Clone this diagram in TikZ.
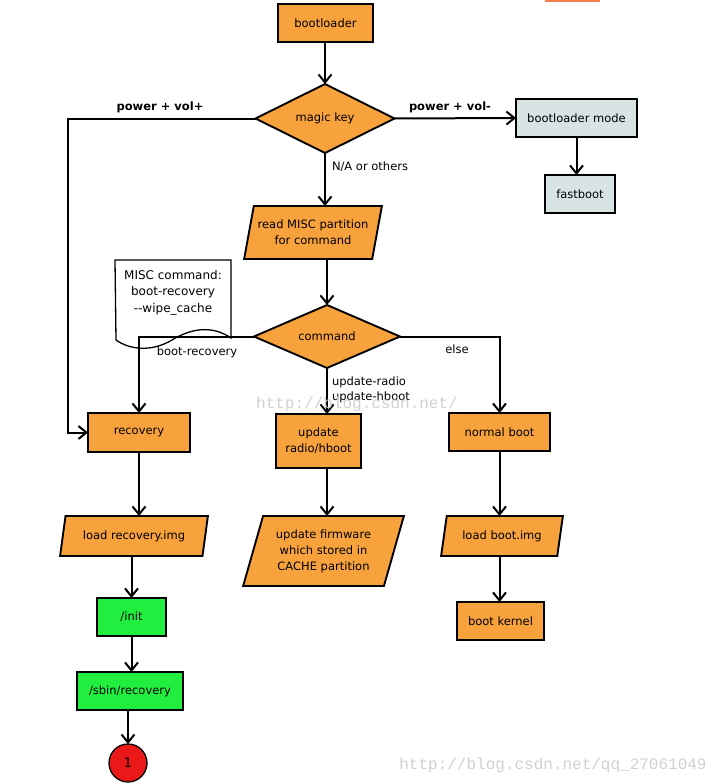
\documentclass[tikz,border=0pt]{standalone}
\usepackage{fontspec}
\setmainfont{DejaVu Sans}
\newfontfamily\wmfont{Liberation Mono}
\usetikzlibrary{shapes.geometric,arrows.meta}
\definecolor{boxorange}{RGB}{247,162,60}
\definecolor{boxgray}{RGB}{216,228,228}
\definecolor{boxgreen}{RGB}{34,238,64}
\definecolor{boxred}{RGB}{234,24,24}
\definecolor{wmgray}{RGB}{208,208,208}
\definecolor{topbar}{RGB}{240,125,75}
\begin{document}
\begin{tikzpicture}[x=1pt,y=-1pt,
  every node/.style={font=\fontsize{11.5}{16}\selectfont, inner sep=0pt, outer sep=0pt},
  proc/.style={draw, line width=1.9pt, fill=boxorange, rectangle, align=center},
  procgray/.style={proc, fill=boxgray},
  procgreen/.style={proc, fill=boxgreen},
  decision/.style={draw, line width=1.9pt, fill=boxorange, diamond, aspect=2, align=center},
  iobox/.style={draw, line width=1.9pt, fill=boxorange, trapezium, trapezium left angle=70,
     trapezium right angle=110, trapezium stretches=true, align=center},
  notebox/.style={draw, line width=1.3pt, fill=white},
  arr/.style={line width=2pt, -{Straight Barb[length=8pt,width=13pt,line width=2pt]}},
  lbl/.style={font=\fontsize{11.5}{15}\selectfont},
  blbl/.style={font=\fontsize{11.5}{15}\selectfont\bfseries},
  wm/.style={font=\fontsize{16}{18}\wmfont, text=wmgray}
]
\useasboundingbox (0,0) rectangle (724,784);
\fill[topbar] (545,0) rectangle (600,2);

% nodes
\node[proc, minimum width=95pt, minimum height=38pt] (boot) at (325.5,23) {bootloader};
\node[decision, minimum width=139pt, minimum height=69pt] (magic) at (325,118.5) {magic key};
\node[procgray, minimum width=121pt, minimum height=38pt] (blmode) at (576.5,118) {bootloader mode};
\node[procgray, minimum width=70pt, minimum height=38pt] (fastboot) at (580,194) {fastboot};
\node[iobox, minimum width=138pt, minimum height=53pt] (misc) at (313,232.5) {read MISC partition\\for command};

% note
\draw[notebox] (116,340) -- (115,260) -- (231,260) -- (231,338)
   .. controls (215,327) and (195,326) .. (172,340)
   .. controls (152,352) and (130,350) .. cycle;
\node[align=center, font=\fontsize{12}{16.5}\selectfont] (note) at (173,292.5) {MISC command:\\boot-recovery\\{-}{-}wipe\_cache};

\node[decision, minimum width=146pt, minimum height=63pt] (cmd) at (327,336.5) {command};
\node[proc, minimum width=102pt, minimum height=39pt] (recovery) at (139,432.5) {recovery};
\node[proc, minimum width=85pt, minimum height=54pt] (updradio) at (318.5,441) {update\\radio/hboot};
\node[proc, minimum width=101pt, minimum height=38pt] (normal) at (499.5,432) {normal boot};
\node[iobox, minimum width=148pt, minimum height=40pt] (loadrec) at (134,536) {load recovery.img};
\node[iobox, minimum width=161pt, minimum height=70pt] (updfw) at (323.5,551) {update firmware\\which stored in\\CACHE partition};
\node[iobox, minimum width=122pt, minimum height=40pt] (loadboot) at (502,536) {load boot.img};
\node[procgreen, minimum width=69pt, minimum height=38pt] (init) at (131.5,617) {/init};
\node[procgreen, minimum width=106pt, minimum height=38pt] (sbin) at (130,691) {/sbin/recovery};
\node[draw, line width=1.3pt, fill=boxred, circle, minimum size=38pt, font=\fontsize{13}{15}\selectfont] (circ) at (128,763) {1};
\node[proc, minimum width=87pt, minimum height=38pt] (kernel) at (500.5,621) {boot kernel};

\coordinate (lft) at (68,118.5);

% connectors
\draw[arr] (magic.north |- boot.south) -- (magic.north);
\draw[arr] (magic.east) -- (blmode.west);
\draw[arr] (blmode.south) -- (blmode.south |- fastboot.north);
\draw[arr] (magic.south) -- (magic.south |- misc.north);
\draw[arr] (cmd.north |- misc.south) -- (cmd.north);
\draw[arr] (magic.west) -- (lft) |- (recovery.west);
\draw[arr] (cmd.west) -| (recovery.north);
\draw[arr] (cmd.east) -| (normal.north);
\draw[arr] (cmd.south) -- (cmd.south |- updradio.north);
\draw[arr] (cmd.south |- updradio.south) -- (cmd.south |- updfw.north);
\draw[arr] (recovery.south) -- (recovery.south |- loadrec.north);
\draw[arr] (init.north |- loadrec.south) -- (init.north);
\draw[arr] (init.south) -- (init.south |- sbin.north);
\draw[arr] (circ.north |- sbin.south) -- (circ.north);
\draw[arr] (normal.south) -- (normal.south |- loadboot.north);
\draw[arr] (normal.south |- loadboot.south) -- (normal.south |- kernel.north);

% labels
\node[blbl] (lplus) at (160,107) {power + vol+};
\node[blbl] (lminus) at (450,107) {power + vol-};
\node[lbl, anchor=west] (lna) at (332,167) {N/A or others};
\node[lbl] (lboot) at (197,352) {boot-recovery};
\node[lbl] (lelse) at (457,349) {else};
\node[lbl, anchor=west, align=left] (lupd) at (332,389.5) {update-radio\\update-hboot};

% watermarks
\node[wm] (wm1) at (357,404) {http://blog.csdn.net/};
\node[wm] (wm2) at (553,765) {http://blog.csdn.net/qq\_27061049};
\end{tikzpicture}
\end{document}
